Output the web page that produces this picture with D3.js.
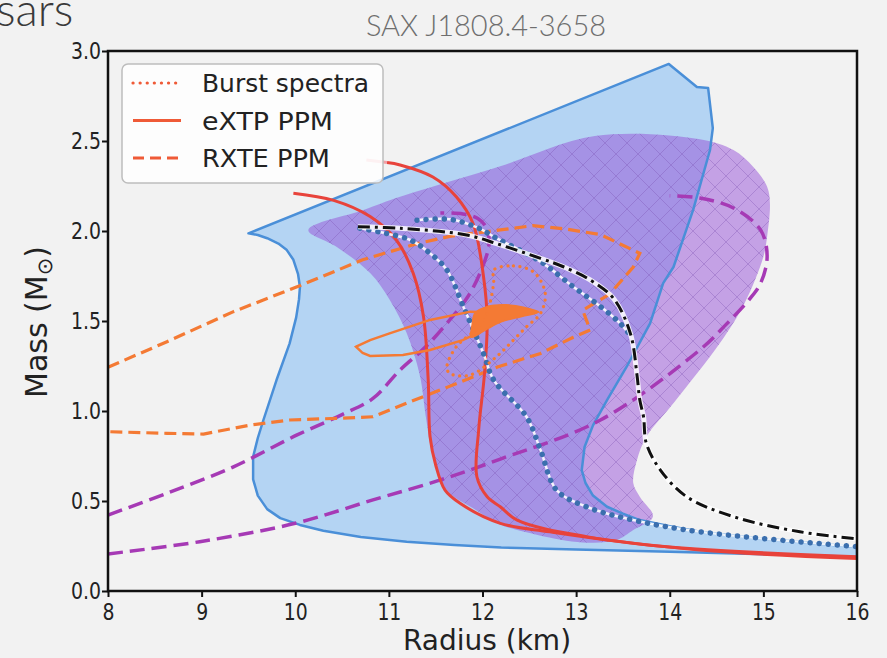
<!DOCTYPE html>
<html>
<head>
<meta charset="utf-8">
<script src="https://cdn.jsdelivr.net/npm/d3@7"></script>
<style>
  body { margin: 0; background: #f2f2f2; }
  svg { display: block; }
</style>
</head>
<body>
<div id="chart"></div>
<script>
// axis ticks
const xTicks = [8, 9, 10, 11, 12, 13, 14, 15, 16];
const yTicks = [0, 0.5, 1.0, 1.5, 2.0, 2.5, 3.0];

// shaded regions [radius, mass]
const blueRegion = [
  [9.5, 1.987], [13.99, 2.928], [14.29, 2.8], [14.41, 2.794], [14.46, 2.572], [14.43, 2.45],
  [14.25, 2.117], [14.04, 1.8], [13.93, 1.71], [13.79, 1.487], [13.54, 1.246], [13.33, 1.061],
  [13.18, 0.92], [13.09, 0.8], [13.06, 0.672], [13.1, 0.6], [13.18, 0.53], [13.33, 0.468],
  [13.5, 0.43], [13.68, 0.394], [14.0, 0.36], [14.32, 0.329], [15.0, 0.29], [16, 0.245],
  [16, 0.19], [15.0, 0.204], [14.0, 0.218], [13.0, 0.23], [12.2, 0.242], [11.7, 0.256],
  [11.19, 0.274], [10.7, 0.3], [10.3, 0.335], [10.05, 0.367], [9.84, 0.405], [9.7, 0.455],
  [9.6, 0.53], [9.55, 0.62], [9.55, 0.746], [9.6, 0.85], [9.66, 0.95], [9.8, 1.172],
  [9.94, 1.376], [10.01, 1.52], [10.04, 1.62], [10.05, 1.69], [10.03, 1.76], [9.98, 1.84],
  [9.91, 1.894], [9.82, 1.93], [9.7, 1.96], [9.6, 1.978]
];
const purpleRegion = [
  [10.14, 2.006], [10.73, 2.117], [11.12, 2.19], [12.19, 2.36], [13.2, 2.528], [14.32, 2.51],
  [14.68, 2.45], [14.89, 2.357], [15.04, 2.246], [15.07, 2.15], [15.04, 1.97], [15.0, 1.857],
  [14.8, 1.6], [14.54, 1.38], [14.05, 1.05], [13.75, 0.857], [13.65, 0.728], [13.61, 0.6],
  [13.68, 0.524], [13.82, 0.413], [13.61, 0.339], [13.43, 0.283], [13.07, 0.27], [12.6, 0.31],
  [12.19, 0.37], [11.9, 0.46], [11.62, 0.56], [11.47, 0.75], [11.4, 0.95], [11.33, 1.2],
  [11.19, 1.433], [11.01, 1.617], [10.8, 1.766], [10.44, 1.913]
];

// eXTP PPM (red solid)
const redA = [
  [9.98, 2.21], [10.41, 2.17], [10.8, 2.08], [11.08, 1.95], [11.26, 1.765], [11.37, 1.524],
  [11.42, 1.172], [11.44, 0.857], [11.5, 0.7], [11.6, 0.56], [11.76, 0.487], [12.19, 0.376],
  [12.72, 0.329], [13.97, 0.246], [16, 0.19]
];
const redB = [
  [10.98, 2.38], [11.12, 2.367], [11.47, 2.3], [11.72, 2.19], [11.9, 2.04], [12.01, 1.75],
  [12.05, 1.5], [12.02, 1.2], [11.96, 0.9], [11.94, 0.635], [12.05, 0.524], [12.19, 0.468],
  [12.37, 0.394], [13.11, 0.302], [14.32, 0.228], [16, 0.18]
];
const redBFaded = [[10.76, 2.394], [10.98, 2.38]];

// black dash-dot and blue dotted curves
const blackDashDot = [
  [10.67, 2.024], [11.12, 2.015], [11.83, 1.978], [12.15, 1.93], [12.62, 1.848], [12.87, 1.8],
  [13.15, 1.728], [13.4, 1.625], [13.58, 1.43], [13.65, 1.2], [13.68, 1.061], [13.72, 0.968],
  [13.75, 0.82], [13.9, 0.672], [14.18, 0.524], [14.68, 0.413], [15.39, 0.329], [16, 0.29]
];
const blueDotted1 = [
  [10.69, 2.015], [10.94, 1.99], [11.23, 1.95], [11.44, 1.876], [11.62, 1.783], [11.8, 1.574],
  [12.01, 1.32], [12.12, 1.172], [12.47, 0.968], [12.62, 0.783], [12.79, 0.561], [13.11, 0.468],
  [13.61, 0.394], [14.32, 0.329], [16, 0.246]
];
const blueDotted2 = [
  [11.3, 2.06], [11.65, 2.065], [11.94, 2.02], [12.15, 1.96], [12.62, 1.83], [12.97, 1.69],
  [13.26, 1.58], [13.47, 1.487], [13.58, 1.42]
];

// magenta dashed curves
const purpleDash1 = [
  [8, 0.422], [8.63, 0.543], [9.34, 0.69], [10.02, 0.867], [10.5, 0.98], [10.83, 1.07],
  [11.12, 1.228], [11.4, 1.36], [11.65, 1.506], [11.85, 1.64], [12.0, 1.8], [12.07, 1.93],
  [12.04, 2.02], [11.95, 2.07], [11.79, 2.095], [11.55, 2.1]
];
const purpleDash2 = [
  [8, 0.206], [8.98, 0.274], [10.0, 0.376], [10.83, 0.506], [11.55, 0.617], [12.19, 0.733],
  [13.26, 0.95], [14.32, 1.339], [14.6, 1.48], [14.85, 1.62], [14.97, 1.71], [15.04, 1.857],
  [14.97, 2.006], [14.68, 2.128], [14.32, 2.183], [14.0, 2.196]
];

// RXTE PPM (orange dashed contour)
const rxte = [
  [8, 1.243], [8.63, 1.385], [9.34, 1.552], [10.02, 1.69], [10.72, 1.84], [11.3, 1.93],
  [11.65, 1.97], [12.19, 2.006], [12.54, 2.03], [12.9, 2.01], [13.26, 1.98], [13.68, 1.876],
  [13.61, 1.8], [13.36, 1.65], [13.07, 1.56], [13.15, 1.45], [12.97, 1.41], [12.62, 1.32],
  [12.16, 1.244], [11.55, 1.117], [11.19, 1.044], [10.83, 0.968], [10.48, 0.96], [9.94, 0.95],
  [9.52, 0.922], [9.02, 0.872], [8.63, 0.876], [8, 0.885]
];
// eXTP PPM (orange contour + filled core)
const extpLoop = [
  [10.65, 1.357], [10.8, 1.394], [11.0, 1.43], [11.44, 1.506], [11.87, 1.552], [11.95, 1.55],
  [12.01, 1.45], [11.79, 1.394], [11.44, 1.339], [11.15, 1.311], [10.8, 1.306], [10.72, 1.322]
];
const extpCore = [
  [11.92, 1.545], [12.05, 1.58], [12.25, 1.59], [12.45, 1.575], [12.6, 1.55], [12.42, 1.525],
  [12.2, 1.495], [12.03, 1.45], [11.88, 1.41], [11.89, 1.48]
];
// Burst spectra (orange dotted contour)
const burstLoop = [
  [12.12, 1.783], [12.33, 1.806], [12.55, 1.77], [12.67, 1.654], [12.62, 1.543], [12.47, 1.468],
  [12.33, 1.394], [12.15, 1.302], [11.87, 1.2], [11.65, 1.209], [11.62, 1.246], [11.72, 1.357],
  [11.9, 1.44], [12.01, 1.5], [12.08, 1.6], [12.12, 1.72]
];

const legendLabels = ["Burst spectra", "eXTP PPM", "RXTE PPM"];

const width = 887, height = 658;
const x = d3.scaleLinear().domain([8, 16]).range([108, 857]);
const y = d3.scaleLinear().domain([0, 3]).range([591, 51]);

const svg = d3.select("#chart").append("svg")
  .attr("width", width).attr("height", height);

svg.append("rect").attr("width", width).attr("height", height).attr("fill", "#f2f2f2");

const defs = svg.append("defs");
defs.append("clipPath").attr("id", "plotclip")
  .append("rect").attr("x", 108).attr("y", 51).attr("width", 749).attr("height", 540);
const hatch = defs.append("pattern").attr("id", "hatch")
  .attr("patternUnits", "userSpaceOnUse").attr("width", 22).attr("height", 22);
hatch.append("path").attr("d", "M0,0 L22,22 M-11,11 L11,33 M11,-11 L33,11 M0,22 L22,0 M-11,11 L11,-11 M11,33 L33,11")
  .attr("stroke", "#7a4fb0").attr("stroke-opacity", 0.35).attr("stroke-width", 1);

// slide text
svg.append("text").attr("x", -4).attr("y", 26).text("sars")
  .attr("font-family", "Lato, 'Open Sans', sans-serif").attr("font-weight", 300)
  .attr("font-size", 46).attr("fill", "#3a3a3a");
svg.append("text").attr("x", 486).attr("y", 36).attr("text-anchor", "middle")
  .text("SAX J1808.4-3658")
  .attr("font-family", "Lato, 'Open Sans', sans-serif").attr("font-weight", 300)
  .attr("font-size", 29).attr("fill", "#6e6e6e");

const plot = svg.append("g").attr("clip-path", "url(#plotclip)");

const lineLin = d3.line().x(d => x(d[0])).y(d => y(d[1]));
const lineSmooth = d3.line().x(d => x(d[0])).y(d => y(d[1])).curve(d3.curveCatmullRom.alpha(0.5));
const closedLin = d3.line().x(d => x(d[0])).y(d => y(d[1])).curve(d3.curveLinearClosed);
const closedSmooth = d3.line().x(d => x(d[0])).y(d => y(d[1])).curve(d3.curveCatmullRomClosed.alpha(0.5));

// regions
plot.append("path").attr("d", closedLin(blueRegion)).attr("fill", "#b4d4f3");
plot.append("path").attr("d", closedSmooth(purpleRegion)).attr("fill", "rgb(150,80,216)").attr("fill-opacity", 0.5);
plot.append("path").attr("d", closedSmooth(purpleRegion)).attr("fill", "url(#hatch)");
plot.append("path").attr("d", closedLin(blueRegion)).attr("fill", "none")
  .attr("stroke", "#4a8fd8").attr("stroke-width", 2.5).attr("stroke-linejoin", "round");

// magenta dashed
[purpleDash1, purpleDash2].forEach(d => {
  plot.append("path").attr("d", lineSmooth(d)).attr("fill", "none")
    .attr("stroke", "#a63ab5").attr("stroke-width", 3.5).attr("stroke-dasharray", "15,7");
});

// RXTE dashed
plot.append("path").attr("d", lineLin(rxte)).attr("fill", "none")
  .attr("stroke", "#f47a34").attr("stroke-width", 3.2).attr("stroke-dasharray", "12,6");

// red eXTP curves
[redA, redB].forEach(d => {
  plot.append("path").attr("d", lineSmooth(d)).attr("fill", "none")
    .attr("stroke", "#e8433b").attr("stroke-width", 3);
});
plot.append("path").attr("d", lineLin(redBFaded)).attr("fill", "none")
  .attr("stroke", "#f2a0a6").attr("stroke-width", 3);

// blue dotted
[blueDotted1, blueDotted2].forEach(d => {
  plot.append("path").attr("d", lineSmooth(d)).attr("fill", "none")
    .attr("stroke", "#ffffff").attr("stroke-opacity", 0.9).attr("stroke-width", 2.5);
  plot.append("path").attr("d", lineSmooth(d)).attr("fill", "none")
    .attr("stroke", "#3b6fae").attr("stroke-width", 5.5)
    .attr("stroke-linecap", "round").attr("stroke-dasharray", "0.1,9");
});

// black dash-dot
plot.append("path").attr("d", lineSmooth(blackDashDot)).attr("fill", "none")
  .attr("stroke", "#ffffff").attr("stroke-opacity", 0.85).attr("stroke-width", 5);
plot.append("path").attr("d", lineSmooth(blackDashDot)).attr("fill", "none")
  .attr("stroke", "#111").attr("stroke-width", 3).attr("stroke-dasharray", "12,5,3,5");

// eXTP orange
plot.append("path").attr("d", closedLin(extpLoop)).attr("fill", "none")
  .attr("stroke", "#f47a34").attr("stroke-width", 2.5);
plot.append("path").attr("d", closedSmooth(extpCore)).attr("fill", "#f47a34")
  .attr("stroke", "#f47a34").attr("stroke-width", 1.5);

// burst spectra dotted
plot.append("path").attr("d", closedSmooth(burstLoop)).attr("fill", "none")
  .attr("stroke", "#f47a34").attr("stroke-width", 3.2)
  .attr("stroke-linecap", "round").attr("stroke-dasharray", "0.1,6.5");

// axes frame
svg.append("rect").attr("x", 108).attr("y", 51).attr("width", 749).attr("height", 540)
  .attr("fill", "none").attr("stroke", "#111").attr("stroke-width", 2.5);

const xAxis = svg.append("g").attr("transform", "translate(0,591)")
  .call(d3.axisBottom(x).tickValues(xTicks).tickFormat(d3.format("d")).tickSize(6));
const yAxis = svg.append("g").attr("transform", "translate(108,0)")
  .call(d3.axisLeft(y).tickValues(yTicks).tickFormat(d3.format(".1f")).tickSize(6));
[xAxis, yAxis].forEach(a => {
  a.select(".domain").remove();
  a.selectAll(".tick line").attr("stroke", "#111").attr("stroke-width", 2);
  a.selectAll(".tick text").attr("fill", "#222")
    .attr("font-family", "'DejaVu Sans', sans-serif").attr("font-size", 23);
});
xAxis.selectAll(".tick text").attr("y", 8).attr("dy", "0.9em")
  .attr("textLength", d => String(d).length * 12).attr("lengthAdjust", "spacingAndGlyphs");
yAxis.selectAll(".tick text").attr("x", -7)
  .attr("textLength", 30).attr("lengthAdjust", "spacingAndGlyphs");

// axis titles
svg.append("text").attr("x", 487).attr("y", 650).attr("text-anchor", "middle")
  .attr("font-family", "'DejaVu Sans', sans-serif").attr("font-size", 28).attr("fill", "#222")
  .text("Radius (km)");
const yTitle = svg.append("text")
  .attr("transform", "translate(47,322) rotate(-90)").attr("text-anchor", "middle")
  .attr("font-family", "'DejaVu Sans', sans-serif").attr("font-size", 30).attr("fill", "#222");
yTitle.append("tspan").text("Mass (M");
yTitle.append("tspan").attr("font-size", 21).attr("dy", 5).text("\u2299");
yTitle.append("tspan").attr("dy", -5).text(")");

// legend
const legend = svg.append("g");
legend.append("rect").attr("x", 122).attr("y", 64).attr("width", 261).attr("height", 119)
  .attr("rx", 6).attr("fill", "#ffffff").attr("fill-opacity", 0.85)
  .attr("stroke", "#bdbdbd").attr("stroke-width", 1.5);
const legendDash = ["0.1,7", null, "11,6"];
legendLabels.forEach((label, i) => {
  const ly = 83 + i * 37.5;
  legend.append("line").attr("x1", 133).attr("x2", 181).attr("y1", ly).attr("y2", ly)
    .attr("stroke", "#ef5a37").attr("stroke-width", i === 0 ? 3.2 : 3)
    .attr("stroke-linecap", i === 0 ? "round" : "butt")
    .attr("stroke-dasharray", legendDash[i]);
  legend.append("text").attr("x", 202).attr("y", ly + 9)
    .attr("font-family", "'DejaVu Sans', sans-serif").attr("font-size", 25).attr("fill", "#222")
    .attr("textLength", [167, 131, 128][i]).attr("lengthAdjust", "spacingAndGlyphs")
    .text(label);
});
</script>
</body>
</html>
